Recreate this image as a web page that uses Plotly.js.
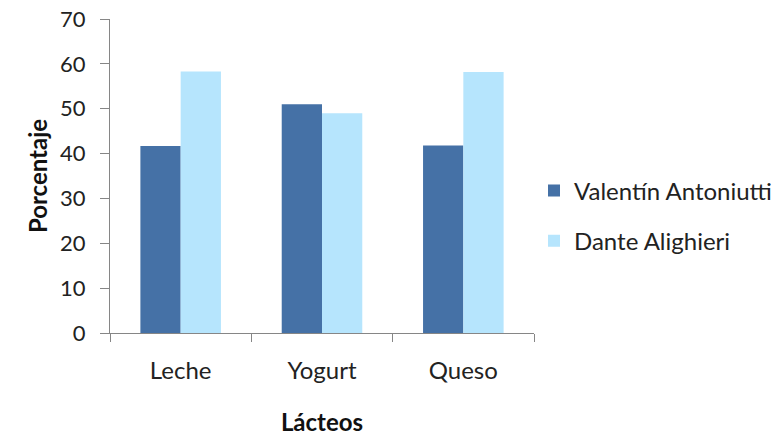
<!DOCTYPE html>
<html>
<head>
<meta charset="utf-8">
<script src="https://cdn.plot.ly/plotly-3.0.1.min.js"></script>
<style>
  html, body { margin: 0; padding: 0; background: #fff; }
  #chart { width: 784px; height: 438px; }
</style>
</head>
<body>
<div id="chart"></div>
<script>
// Consumo de lácteos por escuela (porcentaje)
const categories = ["Leche", "Yogurt", "Queso"];
const seriesNames = ["Valentín Antoniutti", "Dante Alighieri"];
const valentinValues = [41.7, 51, 41.8];
const danteValues = [58.3, 49, 58.2];
const yTicks = [0, 10, 20, 30, 40, 50, 60, 70];

const FONT = "Lato, 'Open Sans', sans-serif";
const AXIS_GRAY = "#868686";

const traces = [
  {
    type: "bar",
    name: seriesNames[0],
    x: categories,
    y: valentinValues,
    marker: { color: "#4571A6", line: { color: "#4571A6", width: 0 } },
    legendgroup: "a"
  },
  {
    type: "bar",
    name: seriesNames[1],
    x: categories,
    y: danteValues,
    marker: { color: "#B6E5FD", line: { color: "#B6E5FD", width: 0 } },
    legendgroup: "b"
  }
];

const layout = {
  width: 784,
  height: 438,
  margin: { l: 110, r: 250, t: 19, b: 105 },
  paper_bgcolor: "#fff",
  plot_bgcolor: "#fff",
  font: { family: FONT, color: "#222", size: 22 },
  barmode: "group",
  bargap: 0.43,
  bargroupgap: 0,
  xaxis: {
    type: "category",
    showline: true,
    linecolor: AXIS_GRAY,
    linewidth: 1,
    ticks: "outside",
    tickson: "boundaries",
    ticklen: 8,
    tickcolor: AXIS_GRAY,
    tickfont: { family: FONT, size: 24, color: "#222" },
    ticklabelstandoff: 16,
    showgrid: false,
    zeroline: false,
    title: { text: "<b>Lácteos</b>", font: { family: FONT, size: 24, color: "#111" }, standoff: 31 }
  },
  yaxis: {
    range: [0, 70],
    tickvals: yTicks,
    showline: true,
    linecolor: AXIS_GRAY,
    linewidth: 1,
    ticks: "outside",
    ticklen: 9,
    tickcolor: AXIS_GRAY,
    tickfont: { family: FONT, size: 22, color: "#222" },
    ticklabelstandoff: 10,
    showgrid: false,
    zeroline: false,
    title: { text: "<b>Porcentaje</b>", font: { family: FONT, size: 24, color: "#111" }, standoff: 5 }
  },
  showlegend: true,
  legend: {
    xref: "container",
    yref: "container",
    x: 534 / 784,
    xanchor: "left",
    y: 1 - 216 / 438,
    yanchor: "middle",
    traceorder: "grouped",
    tracegroupgap: 16,
    font: { family: FONT, size: 24, color: "#222" },
    bgcolor: "rgba(0,0,0,0)"
  }
};

Plotly.newPlot("chart", traces, layout, { displayModeBar: false, staticPlot: true });
</script>
</body>
</html>
